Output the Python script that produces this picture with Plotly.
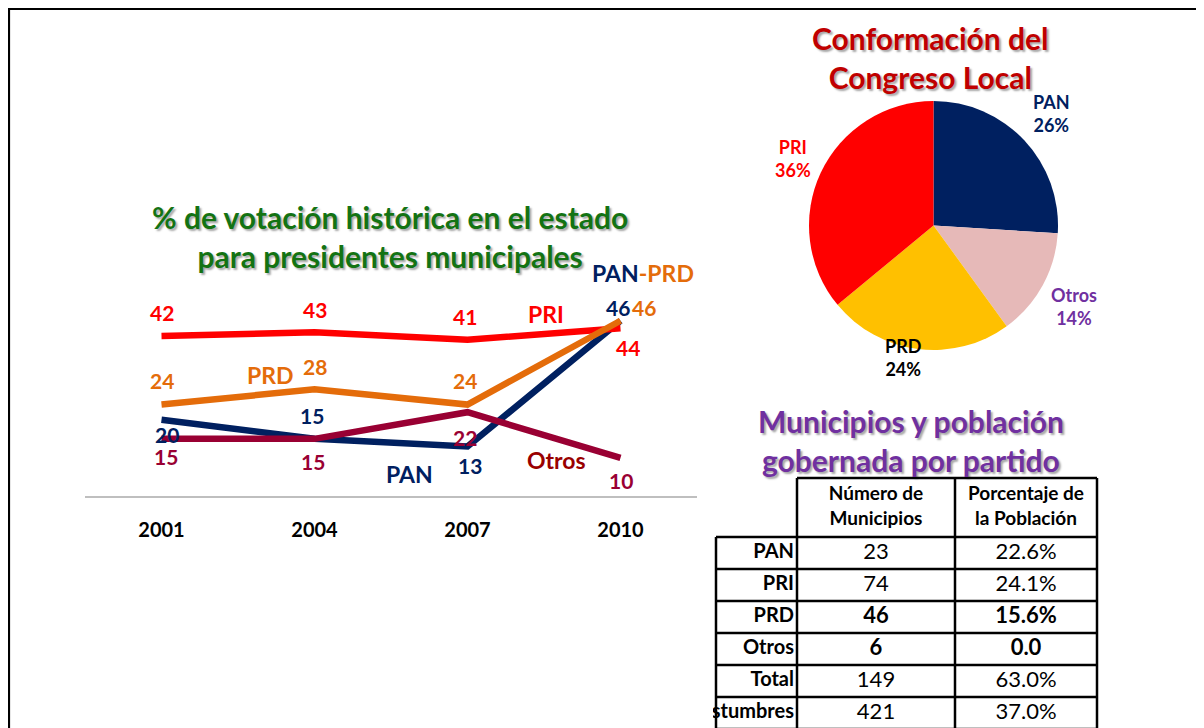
import plotly.graph_objects as go

# ---------------- data ----------------
years = ["2001", "2004", "2007", "2010"]
pri = [42, 43, 41, 44]
prd = [24, 28, 24, 46]
pan = [20, 15, 13, 46]
otros = [15, 15, 22, 10]

pie_labels = ["PAN", "Otros", "PRD", "PRI"]
pie_values = [26, 14, 24, 36]

tbl_header = ["", "Número de<br>Municipios", "Porcentaje de<br>la Población"]
tbl_rows = ["PAN", "PRI", "PRD", "Otros", "Total", "Usos y costumbres"]
tbl_municipios = [23, 74, 46, 6, 149, 421]
tbl_poblacion = ["22.6%", "24.1%", "15.6%", "0.0", "63.0%", "37.0%"]
tbl_bold_rows = [2, 3]

# ---------------- styling / layout helpers ----------------
W, H = 1196, 720          # figure size (page has an 8px body margin)
OFF = 8
FONT = "Lato"
C_PRI = "#FF0000"
C_PRD = "#E46C0A"
C_PAN = "#002060"
C_OTR = "#990033"
SHADOW = "2px 2px 2px rgba(0,0,0,0.35)"


def px(x):
    return (x - OFF) / W


def py(y):
    return 1 - (y - OFF) / H


fig = go.Figure()

# ---------------- line chart ----------------
series = [
    ("PAN", pan, C_PAN),
    ("Otros", otros, C_OTR),
    ("PRI", pri, C_PRI),
    ("PRD", prd, C_PRD),
]
for name, vals, col in series:
    fig.add_trace(go.Scatter(x=years, y=vals, mode="lines", name=name,
                             line=dict(color=col, width=6.5), showlegend=False,
                             hoverinfo="skip"))

offsets = {
    "PRI": [(0, 23), (0, 23), (-3, 23), (7, -19)],
    "PRD": [(0, 24), (0, 23), (-3, 24), (23, 13)],
    "PAN": [(5, -15), (-3, 23), (2, -19), (-3, 13)],
    "Otros": [(4, -18), (-2, -23), (-3, -25), (0, -23)],
}
for name, vals, col in series:
    for i, v in enumerate(vals):
        dx, dy = offsets[name][i]
        fig.add_annotation(x=i, y=v, xref="x", yref="y", text=f"<b>{v}</b>",
                           showarrow=False, xshift=dx, yshift=dy,
                           font=dict(family=FONT, size=21, color=col))

name_labels = [
    ("PRI", 2.51, 47.8, C_PRI),
    ("PRD", 0.71, 31.8, C_PRD),
    ("PAN", 1.62, 5.8, C_PAN),
    ("Otros", 2.58, 9.5, "#990000"),
]
for txt, x, y, col in name_labels:
    fig.add_annotation(x=x, y=y, xref="x", yref="y", text=f"<b>{txt}</b>",
                       showarrow=False, font=dict(family=FONT, size=23, color=col))
fig.add_annotation(x=3.15, y=58.6, xref="x", yref="y",
                   text=f"<b><span style='color:{C_PAN}'>PAN</span>"
                        f"<span style='color:{C_PRD}'>-PRD</span></b>",
                   showarrow=False, font=dict(family=FONT, size=23))

fig.add_annotation(x=px(390), y=py(236), xref="paper", yref="paper",
                   xanchor="center", yanchor="middle",
                   text="<b>% de votación histórica en el estado<br>para presidentes municipales</b>",
                   showarrow=False, align="center",
                   font=dict(family=FONT, size=30, color="#137313", shadow=SHADOW))

# ---------------- pie ----------------
fig.add_trace(go.Pie(labels=pie_labels, values=pie_values, sort=False,
                     direction="clockwise", rotation=0,
                     marker=dict(colors=[C_PAN, "#E6B9B8", "#FFC000", C_PRI],
                                 line=dict(width=0)),
                     textinfo="none", hoverinfo="skip", showlegend=False,
                     domain=dict(x=[px(809), px(1058)], y=[py(350), py(101)])))

pie_label_pos = [(1051, 113, C_PAN), (1074, 306, "#7030A0"),
                 (903, 357, "#000000"), (793, 158, C_PRI)]
for lab, val, (lx, ly, col) in zip(pie_labels, pie_values, pie_label_pos):
    fig.add_annotation(x=px(lx), y=py(ly), xref="paper", yref="paper",
                       xanchor="center", yanchor="middle",
                       text=f"<b>{lab}<br>{val}%</b>", showarrow=False,
                       font=dict(family=FONT, size=18, color=col))

fig.add_annotation(x=px(930), y=py(58), xref="paper", yref="paper",
                   xanchor="center", yanchor="middle",
                   text="<b>Conformación del<br>Congreso Local</b>", showarrow=False,
                   font=dict(family=FONT, size=30, color="#C00000", shadow=SHADOW))

fig.add_annotation(x=px(911), y=py(440), xref="paper", yref="paper",
                   xanchor="center", yanchor="middle",
                   text="<b>Municipios y población<br>gobernada por partido</b>",
                   showarrow=False,
                   font=dict(family=FONT, size=30, color="#7030A0", shadow=SHADOW))

# ---------------- table (drawn on its own axes x2/y2, units = pixels) ----------------
col_w = [81, 158, 142]
header_h = 59
row_h = 32
col_edges = [0]
for w in col_w:
    col_edges.append(col_edges[-1] + w)
row_edges = [0, header_h]
for _ in tbl_rows:
    row_edges.append(row_edges[-1] + row_h)
row_centers = [(row_edges[i + 1] + row_edges[i + 2]) / 2 for i in range(len(tbl_rows))]
col_centers = [(col_edges[i] + col_edges[i + 1]) / 2 for i in range(len(col_w))]

gx, gy = [], []
gx += [col_edges[1], col_edges[-1], None]; gy += [0, 0, None]
for r in row_edges[1:]:
    gx += [col_edges[0], col_edges[-1], None]; gy += [r, r, None]
gx += [col_edges[0], col_edges[0], None]; gy += [row_edges[1], row_edges[-1], None]
for c in col_edges[1:]:
    gx += [c, c, None]; gy += [0, row_edges[-1], None]
fig.add_trace(go.Scatter(x=gx, y=gy, mode="lines", xaxis="x2", yaxis="y2",
                         line=dict(color="black", width=2.5), showlegend=False,
                         hoverinfo="skip"))

fig.add_trace(go.Scatter(x=col_centers[1:], y=[header_h / 2] * 2, mode="text",
                         text=[f"<b>{h}</b>" for h in tbl_header[1:]],
                         textposition="middle center", xaxis="x2", yaxis="y2",
                         textfont=dict(family=FONT, size=19, color="black"),
                         showlegend=False, hoverinfo="skip"))
fig.add_trace(go.Scatter(x=[col_edges[1] - 3] * len(tbl_rows), y=row_centers,
                         mode="text", text=[f"<b>{r}</b>" for r in tbl_rows],
                         textposition="middle left", xaxis="x2", yaxis="y2",
                         cliponaxis=True,
                         textfont=dict(family=FONT, size=20, color="black"),
                         showlegend=False, hoverinfo="skip"))


def b(s, i):
    return f"<b>{s}</b>" if i in tbl_bold_rows else f"{s}"


fig.add_trace(go.Scatter(x=[col_centers[1]] * len(tbl_rows), y=row_centers,
                         mode="text", text=[b(v, i) for i, v in enumerate(tbl_municipios)],
                         textposition="middle center", xaxis="x2", yaxis="y2",
                         textfont=dict(family=FONT, size=22, color="black"),
                         showlegend=False, hoverinfo="skip"))
fig.add_trace(go.Scatter(x=[col_centers[2]] * len(tbl_rows), y=row_centers,
                         mode="text", text=[b(v, i) for i, v in enumerate(tbl_poblacion)],
                         textposition="middle center", xaxis="x2", yaxis="y2",
                         textfont=dict(family=FONT, size=22, color="black"),
                         showlegend=False, hoverinfo="skip"))

# ---------------- page border ----------------
fig.add_shape(type="line", xref="paper", yref="paper", x0=0, x1=1,
              y0=1 - 0.6 / H, y1=1 - 0.6 / H, line=dict(color="black", width=3))
fig.add_shape(type="line", xref="paper", yref="paper", x0=0.6 / W, x1=0.6 / W,
              y0=0, y1=1, line=dict(color="black", width=3))

TBL_LEFT, TBL_TOP = 716, 478
fig.update_layout(
    width=W, height=H,
    margin=dict(l=0, r=0, t=0, b=0),
    paper_bgcolor="white", plot_bgcolor="white",
    xaxis=dict(domain=[px(85), px(697)], type="category", range=[-0.5, 3.5],
               showline=True, linecolor="#BFBFBF", linewidth=2, ticks="",
               showgrid=False, zeroline=False, ticklabelstandoff=15,
               tickfont=dict(family=FONT, size=20, color="black"),
               tickprefix="<b>", ticksuffix="</b>"),
    yaxis=dict(domain=[py(496), py(267.4)], range=[0, 60],
               visible=False, showgrid=False, zeroline=False),
    xaxis2=dict(domain=[px(TBL_LEFT - 3), px(TBL_LEFT + col_edges[-1] + 3)],
                range=[-3, col_edges[-1] + 3], visible=False, anchor="y2"),
    yaxis2=dict(domain=[0, py(TBL_TOP - 3)],
                range=[OFF + H - TBL_TOP, -3], visible=False, anchor="x2"),
)

fig.write_html("out.html")
